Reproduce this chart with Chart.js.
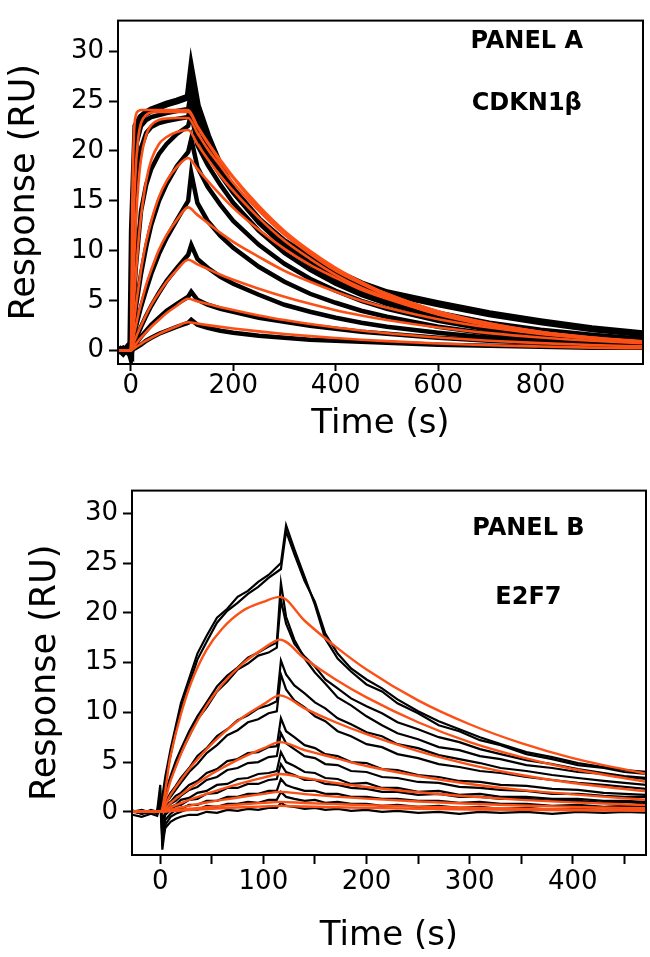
<!DOCTYPE html>
<html>
<head>
<meta charset="utf-8">
<script src="https://cdn.jsdelivr.net/npm/chart.js@4.4.1/dist/chart.umd.min.js"></script>
<style>
  html, body { margin: 0; padding: 0; background: #fff; }
  #wrapA { position: absolute; left: 0; top: 0; }
  #wrapB { position: absolute; left: 0; top: 470px; }
</style>
</head>
<body>
<div id="wrapA"><canvas id="chartA" width="650" height="470"></canvas></div>
<div id="wrapB"><canvas id="chartB" width="650" height="487"></canvas></div>
<script>
// ---------- Panel A : CDKN1β ----------
const xTicksA = [0, 200, 400, 600, 800];
const yTicks = [0, 5, 10, 15, 20, 25, 30];

// fitted curves (orange)
const timeFitA = [-25, 0, 3, 6, 10, 15, 20, 30, 40, 55, 70, 90, 112, 130, 150, 175, 200, 250, 300, 350, 400, 450, 500, 600, 700, 800, 900, 1000];
const fitA1 = [0, 0, 15, 21.5, 23.6, 24.0, 24.1, 24.1, 24.1, 24.1, 24.1, 24.1, 24.1, 22.5, 20.9, 19.1, 17.4, 14.5, 12.0, 10.0, 8.3, 6.9, 5.7, 3.96, 2.74, 1.89, 1.31, 0.9];
const fitA2 = [0, 0, 8, 14, 18.5, 21.5, 22.8, 23.6, 23.85, 23.9, 23.9, 23.9, 23.9, 22.4, 20.8, 18.9, 17.3, 14.3, 11.9, 9.9, 8.2, 6.8, 5.7, 3.93, 2.71, 1.87, 1.30, 0.89];
const fitA3 = [0, 0, 4.5, 8.5, 13, 16.8, 19.2, 21.6, 22.6, 23.1, 23.25, 23.3, 23.3, 21.8, 20.2, 18.5, 16.8, 14.0, 11.6, 9.7, 8.0, 6.7, 5.5, 3.83, 2.64, 1.83, 1.26, 0.87];
const fitA4 = [0, 0, 2.5, 5, 7.8, 11, 13.5, 17, 19.1, 20.7, 21.4, 21.9, 22.1, 20.7, 19.2, 17.5, 16.0, 13.3, 11.0, 9.2, 7.6, 6.3, 5.3, 3.63, 2.51, 1.73, 1.20, 0.83];
const fitA5 = [0, 0, 1.4, 2.7, 4.5, 6.3, 8.1, 10.9, 13.0, 15.4, 17.0, 18.4, 19.3, 18.2, 17.0, 15.6, 14.3, 12.1, 10.2, 8.6, 7.3, 6.1, 5.2, 3.67, 2.61, 1.86, 1.32, 0.94];
const fitA6 = [0, 0, 0.8, 1.6, 2.5, 3.7, 4.7, 6.6, 8.1, 10.1, 11.6, 13.1, 14.35, 13.6, 12.8, 11.8, 10.9, 9.4, 8.0, 6.9, 5.9, 5.0, 4.3, 3.16, 2.32, 1.69, 1.25, 0.92];
const fitA7 = [0, 0, 0.4, 0.83, 1.34, 1.95, 2.5, 3.6, 4.6, 5.8, 6.9, 8.1, 9.1, 8.65, 8.2, 7.6, 7.1, 6.2, 5.4, 4.7, 4.06, 3.53, 3.07, 2.32, 1.76, 1.33, 1.0, 0.76];
const fitA8 = [0, 0, 0.21, 0.42, 0.67, 1.0, 1.3, 1.87, 2.4, 3.1, 3.77, 4.5, 5.2, 4.95, 4.67, 4.36, 4.07, 3.53, 3.07, 2.67, 2.32, 2.02, 1.75, 1.33, 1.0, 0.76, 0.57, 0.43];
const fitA9 = [0, 0, 0.11, 0.22, 0.36, 0.52, 0.69, 1.0, 1.28, 1.68, 2.03, 2.45, 2.85, 2.71, 2.56, 2.39, 2.23, 1.94, 1.68, 1.46, 1.27, 1.1, 0.96, 0.73, 0.55, 0.42, 0.31, 0.24];

// measured sensorgrams (black)
const timeRawA = [-25, -15, -5, 0, 3, 10, 20, 30, 40, 55, 70, 90, 112, 118, 130, 150, 175, 200, 250, 300, 350, 400, 450, 500, 600, 700, 800, 900, 1000];
const rawA1 = [0.3, -0.2, 0.4, 0.0, 12, 22.5, 23.4, 23.8, 24.1, 24.4, 24.7, 25.0, 25.4, 28.0, 24.5, 21.5, 18.4, 16.1, 13.1, 10.9, 9.3, 7.9, 6.7, 5.8, 4.7, 3.7, 2.9, 2.2, 1.7];
const rawA2 = [0.1, 0.3, -0.3, -0.4, 8, 20.5, 22.5, 23.1, 23.4, 23.6, 23.8, 24.0, 24.2, 26.0, 22.8, 20.5, 18.2, 16.2, 13.0, 10.6, 8.8, 7.3, 6.1, 5.2, 3.8, 2.8, 2.1, 1.6, 1.2];
const rawA3 = [-0.2, 0.2, 0.1, 0.2, 5, 16.5, 20.3, 21.8, 22.4, 22.8, 23.0, 23.2, 23.4, 25.0, 21.6, 19.6, 17.6, 15.8, 12.8, 10.4, 8.6, 7.1, 5.9, 5.0, 3.6, 2.6, 1.9, 1.4, 1.1];
const rawA4 = [0.2, -0.1, 0.1, -0.5, 3, 8.5, 14.0, 16.6, 18.2, 19.7, 20.7, 21.7, 22.5, 23.8, 20.6, 18.6, 16.6, 14.8, 12.0, 9.8, 8.1, 6.7, 5.6, 4.7, 3.4, 2.4, 1.8, 1.3, 1.0];
const rawA5 = [0.0, 0.2, -0.2, 0.1, 1.5, 4.4, 7.7, 10.4, 12.6, 15.0, 16.7, 18.5, 19.9, 21.2, 18.4, 16.4, 14.6, 13.0, 10.6, 8.7, 7.2, 6.0, 5.0, 4.2, 3.0, 2.1, 1.5, 1.1, 0.8];
const rawA6 = [-0.1, 0.1, 0.2, -0.2, 0.8, 2.4, 4.4, 6.1, 7.7, 9.7, 11.3, 13.1, 15.0, 17.8, 14.8, 13.0, 11.5, 10.3, 8.4, 6.9, 5.7, 4.8, 4.0, 3.4, 2.4, 1.7, 1.2, 0.9, 0.7];
const rawA7 = [0.1, -0.2, 0.0, 0.2, 0.4, 1.2, 2.4, 3.5, 4.5, 5.8, 7.0, 8.3, 9.6, 10.6, 9.2, 8.3, 7.4, 6.7, 5.6, 4.6, 3.9, 3.3, 2.8, 2.4, 1.8, 1.3, 1.0, 0.8, 0.6];
const rawA8 = [0.0, 0.2, -0.1, -0.6, 0.2, 0.7, 1.4, 2.0, 2.6, 3.3, 4.0, 4.7, 5.4, 5.9, 5.1, 4.6, 4.2, 3.9, 3.3, 2.9, 2.5, 2.2, 1.9, 1.7, 1.3, 1.0, 0.8, 0.6, 0.5];
const rawA9 = [-0.1, 0.1, 0.0, -0.9, 0.1, 0.3, 0.6, 1.0, 1.3, 1.7, 2.0, 2.4, 2.8, 3.1, 2.6, 2.3, 2.0, 1.8, 1.5, 1.3, 1.1, 1.0, 0.9, 0.8, 0.6, 0.5, 0.4, 0.3, 0.3];

// ---------- Panel B : E2F7 ----------
const xTicksB = [0, 50, 100, 150, 200, 250, 300, 350, 400, 450];

const timeFitB = [-27, 0, 10, 20, 30, 45, 60, 80, 100, 116, 140, 170, 200, 250, 300, 350, 400, 472];
const fitB1 = [0, 0, 5.6, 9.8, 13.0, 16.3, 18.4, 20.2, 21.1, 21.6, 19.2, 16.6, 14.3, 11.2, 8.8, 6.9, 5.4, 3.8];
const fitB2 = [0, 0, 3.1, 5.8, 8.0, 10.7, 12.8, 14.9, 16.4, 17.3, 15.4, 13.3, 11.5, 9.0, 7.0, 5.5, 4.3, 3.0];
const fitB3 = [0, 0, 1.7, 3.2, 4.55, 6.3, 7.8, 9.5, 10.8, 11.7, 10.4, 9.0, 7.8, 6.1, 4.75, 3.7, 2.9, 2.05];
const fitB4 = [0, 0, 0.89, 1.7, 2.46, 3.5, 4.4, 5.47, 6.37, 7.0, 6.2, 5.4, 4.6, 3.6, 2.8, 2.2, 1.75, 1.2];
const fitB5 = [0, 0, 0.45, 0.87, 1.27, 1.81, 2.31, 2.91, 3.43, 3.8, 3.4, 2.9, 2.5, 1.97, 1.54, 1.2, 0.95, 0.67];
const fitB6 = [0, 0, 0.22, 0.44, 0.64, 0.94, 1.2, 1.52, 1.8, 2.0, 1.78, 1.53, 1.33, 1.04, 0.81, 0.64, 0.5, 0.35];
const fitB7 = [0, 0, 0.11, 0.22, 0.32, 0.47, 0.6, 0.76, 0.9, 1.0, 0.89, 0.77, 0.66, 0.52, 0.41, 0.32, 0.25, 0.18];
const fitB8 = [0, 0, 0.07, 0.13, 0.19, 0.28, 0.36, 0.46, 0.54, 0.6, 0.53, 0.46, 0.4, 0.31, 0.24, 0.19, 0.15, 0.1];

const timeRawB = [-27, -18, -9, -3, 0, 2, 5, 10, 15, 20, 28, 36, 45, 55, 65, 75, 85, 95, 105, 113, 117, 122, 130, 140, 150, 160, 172, 185, 200, 215, 230, 250, 270, 290, 310, 330, 355, 380, 405, 430, 450, 472];
const rawB1 = [0.1, -0.2, 0.2, 0.0, 0.5, 1.5, 3.6, 6.3, 8.6, 10.9, 13.4, 15.9, 17.7, 19.5, 20.4, 21.6, 22.2, 23.1, 23.8, 24.6, 25.0, 28.8, 26.4, 23.6, 20.8, 17.4, 15.4, 14.1, 12.8, 12.1, 10.9, 9.9, 8.7, 8.1, 7.2, 6.7, 5.8, 5.3, 4.7, 4.4, 4.0, 3.8];
const rawB2 = [0.0, 0.2, -0.1, 0.1, 0.3, 1.2, 3.1, 5.7, 8.1, 10.3, 12.8, 15.3, 17.1, 19.0, 20.2, 21.0, 21.9, 22.6, 23.5, 24.1, 24.4, 28.2, 25.9, 23.2, 21.1, 17.9, 15.9, 14.4, 13.3, 12.4, 11.3, 10.1, 9.1, 8.3, 7.5, 6.8, 6.0, 5.5, 4.9, 4.5, 4.2, 4.0];
const rawB3 = [0.1, -0.1, 0.1, 0.0, 0.3, 0.8, 2.0, 3.6, 5.1, 6.3, 8.1, 9.6, 11.0, 12.6, 13.7, 14.5, 15.5, 16.0, 16.6, 17.0, 23.0, 19.6, 17.3, 15.4, 14.0, 12.9, 11.5, 10.7, 9.6, 8.7, 7.9, 7.3, 6.5, 6.2, 5.6, 5.3, 4.7, 4.4, 4.0, 3.8, 3.5, 3.3];
const rawB4 = [0.0, 0.1, 0.0, -0.1, 0.2, 0.6, 1.8, 3.3, 4.6, 5.9, 7.6, 9.3, 10.5, 12.1, 13.1, 14.3, 14.9, 15.7, 16.0, 16.5, 21.3, 18.9, 16.9, 15.6, 14.6, 13.3, 12.4, 11.4, 10.6, 9.9, 9.0, 8.3, 7.5, 7.0, 6.3, 5.8, 5.2, 4.8, 4.3, 3.9, 3.6, 3.4];
const rawB5 = [0.1, 0.0, -0.1, 0.1, 0.2, 0.4, 1.0, 1.9, 2.6, 3.4, 4.4, 5.6, 6.4, 7.6, 8.3, 9.2, 9.7, 10.4, 10.7, 11.1, 15.2, 13.8, 12.7, 11.9, 11.0, 10.4, 9.4, 8.8, 8.0, 7.6, 6.8, 6.4, 5.7, 5.3, 4.9, 4.4, 4.1, 3.7, 3.4, 3.1, 2.9, 2.7];
const rawB6 = [0.0, 0.1, 0.0, -0.1, 0.1, 0.3, 0.8, 1.5, 2.2, 2.9, 4.0, 4.8, 5.9, 6.7, 7.7, 8.2, 9.0, 9.3, 9.9, 10.1, 13.8, 12.3, 11.2, 10.5, 9.6, 9.1, 8.1, 7.6, 6.8, 6.5, 5.8, 5.4, 4.8, 4.5, 4.1, 3.9, 3.5, 3.2, 2.9, 2.7, 2.5, 2.3];
const rawB7 = [0.1, -0.1, 0.1, 0.0, 0.2, 0.2, 0.6, 1.0, 1.6, 1.9, 2.7, 3.1, 3.9, 4.3, 5.1, 5.3, 5.9, 6.0, 6.5, 6.6, 9.4, 8.1, 7.5, 6.7, 6.4, 5.8, 5.6, 5.0, 4.9, 4.3, 4.2, 3.7, 3.5, 3.1, 3.0, 2.7, 2.6, 2.3, 2.2, 1.9, 1.8, 1.7];
const rawB8 = [0.0, 0.1, -0.1, 0.1, 0.0, 0.1, 0.4, 0.8, 1.1, 1.6, 2.2, 2.5, 3.2, 3.5, 4.2, 4.4, 4.9, 5.0, 5.5, 5.6, 7.9, 6.9, 6.3, 5.6, 5.4, 4.8, 4.7, 4.1, 4.0, 3.5, 3.4, 3.0, 2.9, 2.5, 2.4, 2.2, 2.1, 1.8, 1.8, 1.6, 1.5, 1.5];
const rawB9 = [0.0, 0.1, 0.0, 0.1, 0.6, -0.8, 0.0, 0.5, 0.7, 1.2, 1.4, 1.9, 2.1, 2.7, 2.8, 3.3, 3.4, 3.8, 3.9, 4.1, 6.0, 5.0, 4.6, 4.0, 3.9, 3.4, 3.3, 2.8, 2.9, 2.4, 2.4, 2.0, 2.1, 1.7, 1.8, 1.5, 1.5, 1.3, 1.3, 1.1, 1.1, 1.0];
const rawB10 = [0.1, 0.0, 0.1, -0.1, 1.2, -1.5, -0.3, 0.2, 0.6, 0.7, 1.2, 1.3, 1.8, 1.9, 2.4, 2.4, 2.8, 2.8, 3.2, 3.3, 4.8, 4.0, 3.7, 3.2, 3.2, 2.8, 2.7, 2.4, 2.3, 2.0, 2.0, 1.7, 1.8, 1.5, 1.5, 1.3, 1.3, 1.1, 1.1, 0.9, 1.0, 0.8];
const rawB11 = [0.0, -0.1, 0.1, 0.0, 1.8, -2.2, -0.8, -0.2, 0.2, 0.3, 0.7, 0.7, 1.1, 1.1, 1.5, 1.5, 1.8, 1.8, 2.1, 2.1, 3.3, 2.7, 2.4, 2.1, 2.1, 1.8, 1.8, 1.5, 1.5, 1.3, 1.3, 1.1, 1.1, 0.9, 1.0, 0.8, 0.8, 0.6, 0.7, 0.5, 0.6, 0.5];
const rawB12 = [0.1, -0.2, 0.0, 0.1, 2.7, -3.8, -1.3, -0.5, -0.2, 0.0, 0.3, 0.2, 0.6, 0.5, 0.8, 0.8, 1.0, 0.9, 1.2, 1.2, 2.0, 1.5, 1.3, 1.1, 1.2, 0.9, 1.0, 0.8, 0.8, 0.6, 0.7, 0.5, 0.6, 0.4, 0.5, 0.3, 0.4, 0.2, 0.3, 0.2, 0.3, 0.2];
const rawB13 = [-0.3, -0.5, -0.2, -0.4, 0.8, -2.8, -1.6, -1.0, -0.7, -0.5, -0.3, -0.3, 0.0, -0.1, 0.2, 0.1, 0.3, 0.2, 0.4, 0.4, 0.9, 0.6, 0.5, 0.3, 0.4, 0.2, 0.3, 0.1, 0.2, 0.0, 0.1, -0.1, 0.0, -0.2, 0.0, -0.1, 0.0, -0.2, 0.0, -0.1, 0.0, -0.1];

const ORANGE = '#fb5016';
const FONT = 'DejaVu Sans';

function line(times, values, color, width, order, smooth) {
  return {
    data: times.map((t, i) => ({ x: t, y: values[i] })),
    borderColor: color,
    borderWidth: width,
    pointRadius: 0,
    fill: false,
    order: order,
    tension: 0,
    cubicInterpolationMode: smooth ? 'monotone' : 'default'
  };
}

const framePlugin = {
  id: 'frame',
  afterDraw(chart) {
    const { ctx, chartArea: a } = chart;
    ctx.save();
    ctx.strokeStyle = '#000';
    ctx.lineWidth = 2;
    ctx.strokeRect(a.left, a.top, a.right - a.left, a.bottom - a.top);
    ctx.restore();
  }
};

const textPlugin = {
  id: 'panelText',
  afterDraw(chart, args, opts) {
    const { ctx, scales } = chart;
    ctx.save();
    ctx.fillStyle = '#000';
    ctx.font = 'bold 24px "' + FONT + '"';
    ctx.textAlign = 'center';
    ctx.textBaseline = 'middle';
    opts.items.forEach(it => {
      ctx.fillText(it.text, scales.x.getPixelForValue(it.x), scales.y.getPixelForValue(it.y));
    });
    ctx.restore();
  }
};

function axes(o) {
  const tickGrid = {
    display: true, drawOnChartArea: false, drawTicks: true,
    tickLength: o.tickLen, tickWidth: 2, tickColor: '#000'
  };
  return {
    x: {
      type: 'linear', min: o.xMin, max: o.xMax,
      afterBuildTicks: s => { s.ticks = o.xTicks.map(v => ({ value: v })); },
      afterFit: s => { s.height = o.xHeight; },
      grid: tickGrid,
      border: { display: false },
      ticks: {
        color: '#000', font: { family: FONT, size: 26 }, padding: o.xPad,
        maxRotation: 0, autoSkip: false,
        callback: v => (v % o.xLabelStep === 0 ? String(v) : '')
      },
      title: {
        display: true, text: 'Time (s)', color: '#000',
        font: { family: FONT, size: 34 }, padding: { top: 0, bottom: 0 }
      }
    },
    y: {
      type: 'linear', min: o.yMin, max: o.yMax,
      afterBuildTicks: s => { s.ticks = yTicks.map(v => ({ value: v })); },
      afterFit: s => { s.width = o.yWidth; },
      grid: { display: true, drawOnChartArea: false, drawTicks: true, tickLength: 9, tickWidth: 2, tickColor: '#000' },
      border: { display: false },
      ticks: { color: '#000', font: { family: FONT, size: 26 }, padding: 5 },
      title: {
        display: true, text: 'Response (RU)', color: '#000',
        font: { family: FONT, size: 35 }, padding: { top: o.yTitlePad, bottom: 0 }
      }
    }
  };
}

const rawA = [rawA1, rawA2, rawA3, rawA4, rawA5, rawA6, rawA7, rawA8, rawA9];
const fitA = [fitA1, fitA2, fitA3, fitA4, fitA5, fitA6, fitA7, fitA8, fitA9];
const dsA = [];
rawA.forEach((r, i) => dsA.push(line(timeRawA, r, '#000', i === 0 ? 7 : 4.5, 2, false)));
fitA.forEach(f => dsA.push(line(timeFitA, f, ORANGE, 2.6, 1, true)));

new Chart(document.getElementById('chartA'), {
  type: 'line',
  data: { datasets: dsA },
  options: {
    responsive: false, animation: false,
    layout: { padding: { left: 0, top: 3, right: 7, bottom: 25 } },
    plugins: {
      legend: { display: false }, tooltip: { enabled: false },
      panelText: { items: [
        { text: 'PANEL A', x: 773, y: 30.9 },
        { text: 'CDKN1β', x: 773, y: 24.7 }
      ] }
    },
    scales: axes({ xMin: -25, xMax: 1000, xTicks: xTicksA, xLabelStep: 200, xHeight: 81,
                   tickLen: 7, xPad: 0,
                   yMin: -1.33, yMax: 33.05, yWidth: 118, yTitlePad: 4 })
  },
  plugins: [framePlugin, textPlugin]
});

const rawB = [rawB1, rawB2, rawB3, rawB4, rawB5, rawB6, rawB7, rawB8, rawB9, rawB10, rawB11, rawB12, rawB13];
const fitB = [fitB1, fitB2, fitB3, fitB4, fitB5, fitB6, fitB7, fitB8];
const dsB = [];
rawB.forEach(r => dsB.push(line(timeRawB, r, '#000', 2.2, 2, false)));
fitB.forEach(f => dsB.push(line(timeFitB, f, ORANGE, 2.4, 1, true)));

new Chart(document.getElementById('chartB'), {
  type: 'line',
  data: { datasets: dsB },
  options: {
    responsive: false, animation: false,
    layout: { padding: { left: 0, top: 14, right: 4, bottom: 0 } },
    plugins: {
      legend: { display: false }, tooltip: { enabled: false },
      panelText: { items: [
        { text: 'PANEL B', x: 357, y: 28.4 },
        { text: 'E2F7', x: 357, y: 21.5 }
      ] }
    },
    scales: axes({ xMin: -27.4, xMax: 471, xTicks: xTicksB, xLabelStep: 100, xHeight: 102,
                   tickLen: 9, xPad: 3,
                   yMin: -4.34, yMax: 32.28, yWidth: 132, yTitlePad: 25 })
  },
  plugins: [framePlugin, textPlugin]
});
</script>
</body>
</html>
